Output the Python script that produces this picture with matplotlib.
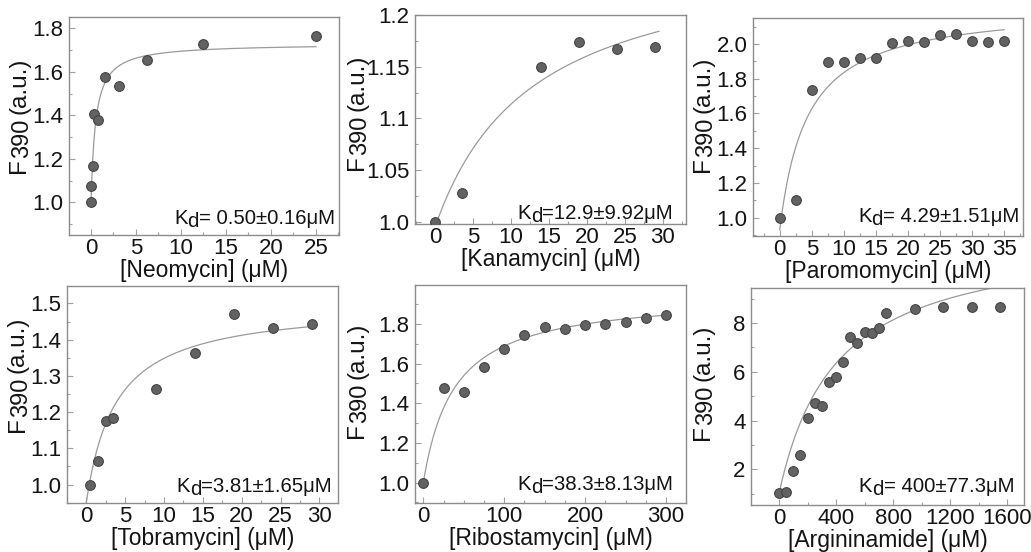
import numpy as np
import matplotlib
matplotlib.use('Agg')
import matplotlib.pyplot as plt
from matplotlib.ticker import MultipleLocator, FixedLocator

plt.rcParams['font.family'] = ['Liberation Sans', 'DejaVu Sans']

# titration data

neo_x = [0, 0.05, 0.2, 0.39, 0.78, 1.56, 3.13, 6.25, 12.5, 25]
neo_y = [1.00, 1.075, 1.169, 1.405, 1.38, 1.576, 1.535, 1.653, 1.73, 1.763]

kan_x = [0, 3.5, 14, 19, 24, 29]
kan_y = [1.0, 1.028, 1.150, 1.174, 1.167, 1.169]

par_x = [0, 2.5, 5, 7.5, 10, 12.5, 15, 17.5, 20, 22.5, 25, 27.5, 30, 32.5, 35]
par_y = [1.0, 1.10, 1.733, 1.896, 1.896, 1.917, 1.917, 2.004, 2.015, 2.013,
         2.05, 2.058, 2.015, 2.013, 2.015]

tob_x = [0.5, 1.5, 2.5, 3.5, 9, 14, 19, 24, 29]
tob_y = [1.0, 1.065, 1.176, 1.184, 1.265, 1.362, 1.470, 1.431, 1.443]

rib_x = [0, 25, 50, 75, 100, 125, 150, 175, 200, 225, 250, 275, 300]
rib_y = [1.0, 1.475, 1.455, 1.584, 1.674, 1.744, 1.785, 1.775, 1.795, 1.80,
         1.812, 1.829, 1.845]

arg_x = [0, 50, 100, 150, 200, 250, 300, 350, 400, 450, 500, 550, 600, 650,
         700, 750, 950, 1150, 1350, 1550]
arg_y = [1.01, 1.07, 1.93, 2.59, 4.10, 4.73, 4.60, 5.58, 5.78, 6.40, 7.41,
         7.19, 7.63, 7.60, 7.79, 8.40, 8.59, 8.68, 8.66, 8.67]

names = ['Neomycin', 'Kanamycin', 'Paromomycin', 'Tobramycin', 'Ribostamycin', 'Argininamide']
kd_labels = ['0.50±0.16', '12.9±9.92', '4.29±1.51', '3.81±1.65', '38.3±8.13', '400±77.3']
kd_sep = [' ', '', ' ', '', '', ' ']

# binding fit parameters: Kd, baseline, amplitude, last x of the fit
kd = [0.50, 12.9, 4.29, 3.81, 38.3, 400]
f0 = [0.99, 0.995, 0.93, 0.95, 1.0, 1.0]
amp = [0.74, 0.272, 1.294, 0.55, 0.953, 10.7]
fit_end = [25, 29.5, 35, 29, 300, 1600]

xs = [neo_x, kan_x, par_x, tob_x, rib_x, arg_x]
ys = [neo_y, kan_y, par_y, tob_y, rib_y, arg_y]

# layout (pixels): left, right, top, bottom
boxes = [(69, 339, 17, 235), (415, 686, 15, 224), (753, 1023, 18, 236),
         (67, 338, 286, 503), (415, 686, 285, 503), (751, 1024, 288, 505)]
xlims = [(-2.44, 27.56), (-2.64, 33.06), (-4.17, 37.96),
         (-2.48, 32.4), (-10.3, 324.6), (-196, 1717)]
ylims = [(0.85, 1.852), (0.998, 1.2), (0.894, 2.15),
         (0.949, 1.548), (0.897, 1.997), (0.534, 9.44)]
xmajor = [5, 5, 5, 5, 100, 400]
xminor = [2.5, 2.5, 2.5, 2.5, 25, 200]
yticks = [[1.0, 1.2, 1.4, 1.6, 1.8], [1.0, 1.05, 1.1, 1.15, 1.2],
          [1.0, 1.2, 1.4, 1.6, 1.8, 2.0], [1.0, 1.1, 1.2, 1.3, 1.4, 1.5],
          [1.0, 1.2, 1.4, 1.6, 1.8], [2, 4, 6, 8]]
yticklabels = [['1.0', '1.2', '1.4', '1.6', '1.8'], ['1.0', '1.05', '1.1', '1.15', '1.2'],
               ['1.0', '1.2', '1.4', '1.6', '1.8', '2.0'], ['1.0', '1.1', '1.2', '1.3', '1.4', '1.5'],
               ['1.0', '1.2', '1.4', '1.6', '1.8'], ['2', '4', '6', '8']]
yminor = [0.1, 0.025, 0.1, 0.05, 0.1, 1]

# y label: gap from axes left to the baseline side, bottom of text (px from axes bottom)
ylab_dx = [39, 47, 39, 38, 47, 37]
ylab_dy = [62, 54, 64, 71, 65, 65]
# Kd note: gap from axes right, baseline height above axes bottom (px)
kd_dx = [4, 13, 4, 6, 13, 10]
kd_dy = [11, 5, 14, 11, 13, 13]

W, H = 1031, 552
fig = plt.figure(figsize=(W / 100, H / 100), dpi=100)

spine_col = '#8c8c8c'
text_col = '#141414'
fs_tick = 16
fs_lab = 16.5
fs_ylab = 17.5
fs_kd = 14.7

for i in range(6):
    l, r, t, b = boxes[i]
    w, h = r - l, b - t
    ax = fig.add_axes([l / W, 1 - b / H, w / W, h / H])

    xf = np.linspace(0, fit_end[i], 400)
    yf = f0[i] + amp[i] * xf / (kd[i] + xf)
    ax.plot(xf, yf, color='#9a9a9a', lw=0.9, zorder=2)
    ax.plot(xs[i], ys[i], 'o', ms=7, mfc='#626262', mec='#444444', mew=0.8, zorder=3)

    ax.set_xlim(*xlims[i])
    ax.set_ylim(*ylims[i])
    ax.xaxis.set_major_locator(MultipleLocator(xmajor[i]))
    ax.xaxis.set_minor_locator(MultipleLocator(xminor[i]))
    ax.yaxis.set_major_locator(FixedLocator(yticks[i]))
    ax.set_yticklabels(yticklabels[i])
    ax.yaxis.set_minor_locator(MultipleLocator(yminor[i]))

    for s in ax.spines.values():
        s.set_color(spine_col)
        s.set_linewidth(1.0)
    ax.tick_params(which='both', direction='in', color='#a0a0a0', width=0.8,
                   labelsize=fs_tick, labelcolor=text_col)
    ax.tick_params(which='major', length=4)
    ax.tick_params(which='minor', length=2.5)
    ax.tick_params(axis='x', pad=2)
    ax.tick_params(axis='y', pad=4)

    ax.set_xlabel('[%s] (μM)' % names[i], fontsize=fs_lab, color=text_col, labelpad=0)

    # y label built from pieces so the 390 sits slightly below the line
    t_f = ax.text(-ylab_dx[i] / w, ylab_dy[i] / h, 'F', rotation=90, ha='right', va='bottom',
                  transform=ax.transAxes, fontsize=fs_ylab, color=text_col)
    t_n = ax.annotate('390', xy=(1, 1), xycoords=t_f, xytext=(3, 0), textcoords='offset pixels',
                      rotation=90, ha='right', va='bottom', fontsize=fs_ylab - 0.5, color=text_col)
    ax.annotate('(a.u.)', xy=(1, 1), xycoords=(t_f, t_n), xytext=(0, 5), textcoords='offset pixels',
                rotation=90, ha='right', va='bottom', fontsize=fs_ylab, color=text_col)

    # Kd note, right aligned, with a lowered d
    descent = 0.21 * fs_kd * 100 / 72
    t_r = ax.text(1 - kd_dx[i] / w, (kd_dy[i] - descent) / h, '=' + kd_sep[i] + kd_labels[i] + 'μM',
                  transform=ax.transAxes, ha='right', va='bottom', fontsize=fs_kd, color=text_col)
    t_d = ax.annotate('d', xy=(0, 0), xycoords=t_r, xytext=(0, -3), textcoords='offset pixels',
                      ha='right', va='bottom', fontsize=fs_kd, color=text_col)
    ax.annotate('K', xy=(0, 0), xycoords=(t_d, t_r), ha='right', va='bottom',
                fontsize=fs_kd, color=text_col)

fig.savefig('out.png', dpi=100)
